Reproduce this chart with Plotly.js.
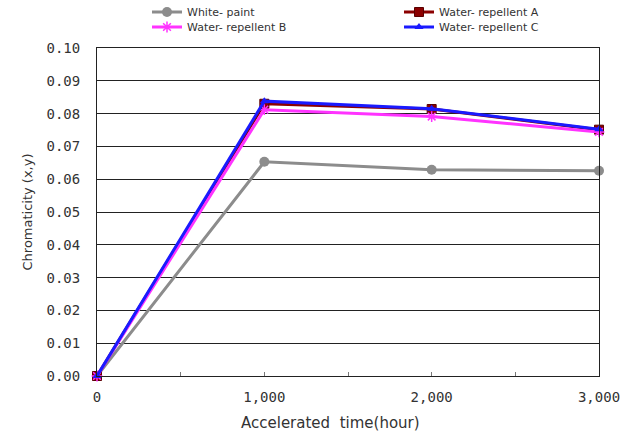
<!DOCTYPE html>
<html>
<head>
<meta charset="utf-8">
<script src="https://cdn.plot.ly/plotly-3.0.1.min.js"></script>
<style>body{margin:0;background:#fff}#chart{width:627px;height:436px}</style>
</head>
<body>
<div id="chart"></div>
<script>
const hours = [0, 1000, 2000, 3000];
const xTickVals = [0, 1000, 2000, 3000];
const xTickText = ["0", "1,000", "2,000", "3,000"];
const xTitle = "Accelerated  time(hour)";
const yTitle = "Chromaticity (x,y)";
const whitePaint = [0, 0.0653, 0.0629, 0.0626];
const repellentA = [0, 0.0830, 0.0814, 0.0751];
const repellentB = [0, 0.0812, 0.0791, 0.0744];
const repellentC = [0, 0.0838, 0.0815, 0.0752];

const traces = [
  {x: hours, y: whitePaint, name: "White- paint", mode: "lines+markers", legend: "legend",
   line: {color: "#8c8c8c", width: 3}, marker: {symbol: "circle", size: 10, color: "#8c8c8c"}, cliponaxis: false},
  {x: hours, y: repellentA, name: "Water- repellent A", mode: "lines+markers", legend: "legend2",
   line: {color: "#8b0000", width: 3}, marker: {symbol: "square", size: 9, color: "#8b0000", line: {color: "#5a0000", width: 1}}, cliponaxis: false},
  {x: hours, y: repellentB, name: "Water- repellent B", mode: "lines+markers", legend: "legend3",
   line: {color: "#ff33ff", width: 3}, marker: {symbol: "asterisk-open", size: 9, color: "#ff33ff", line: {color: "#ff33ff", width: 1.5}}, cliponaxis: false},
  {x: hours, y: repellentC, name: "Water- repellent C", mode: "lines+markers", legend: "legend4",
   line: {color: "#1a1aff", width: 3}, marker: {symbol: "triangle-up", size: 8, color: "#1a1aff"}, cliponaxis: false}
];

const PL = 97, PW = 502;
const tickFont = {family: "DejaVu Sans Mono", size: 14, color: "#333"};
const legFont = {family: "DejaVu Sans", size: 11, color: "#333"};
function leg(px, row) {
  return {x: (px - PL) / PW, y: 1 - (row === 0 ? 12 : 27) / 436, xref: "paper", yref: "container",
    xanchor: "left", yanchor: "middle", orientation: "v", bgcolor: "rgba(0,0,0,0)", font: legFont,
    itemwidth: 30};
}
const layout = {
  width: 627, height: 436,
  margin: {l: PL, r: 28, t: 48, b: 60, autoexpand: false},
  paper_bgcolor: "#fff", plot_bgcolor: "#fff",
  font: {family: "DejaVu Sans", size: 11, color: "#333"},
  xaxis: {
    automargin: false,
    range: [0, 3000], tickmode: "array", tickvals: xTickVals, ticktext: xTickText, tickangle: 0,
    ticks: "inside", ticklen: 4, tickcolor: "#777", tickfont: tickFont, ticklabelstandoff: 8,
    minor: {tickmode: "linear", tick0: 0, dtick: 500, ticks: "inside", ticklen: 4, tickcolor: "#777"},
    showgrid: false, zeroline: false, showline: true, linecolor: "#222", linewidth: 1, mirror: true
  },
  yaxis: {
    automargin: false,
    range: [0, 0.1], dtick: 0.01, tickformat: ".2f", tickfont: tickFont, ticklabelstandoff: 13,
    showgrid: true, gridcolor: "#222", gridwidth: 1, zeroline: false,
    showline: true, linecolor: "#222", linewidth: 1, mirror: true, ticks: "",
    title: {text: yTitle, font: {family: "DejaVu Sans", size: 13, color: "#333"}, standoff: 10}
  },
  annotations: [
    {text: xTitle, xref: "paper", yref: "paper", x: (330 - PL) / PW, y: -(423 - 376) / 328,
     xanchor: "center", yanchor: "middle", showarrow: false,
     font: {family: "DejaVu Sans", size: 15, color: "#333"}}
  ],
  legend: leg(147, 0),
  legend2: leg(399, 0),
  legend3: leg(147, 1),
  legend4: leg(399, 1),
  showlegend: true
};
Plotly.newPlot("chart", traces, layout, {displayModeBar: false, staticPlot: true});
</script>
</body>
</html>
